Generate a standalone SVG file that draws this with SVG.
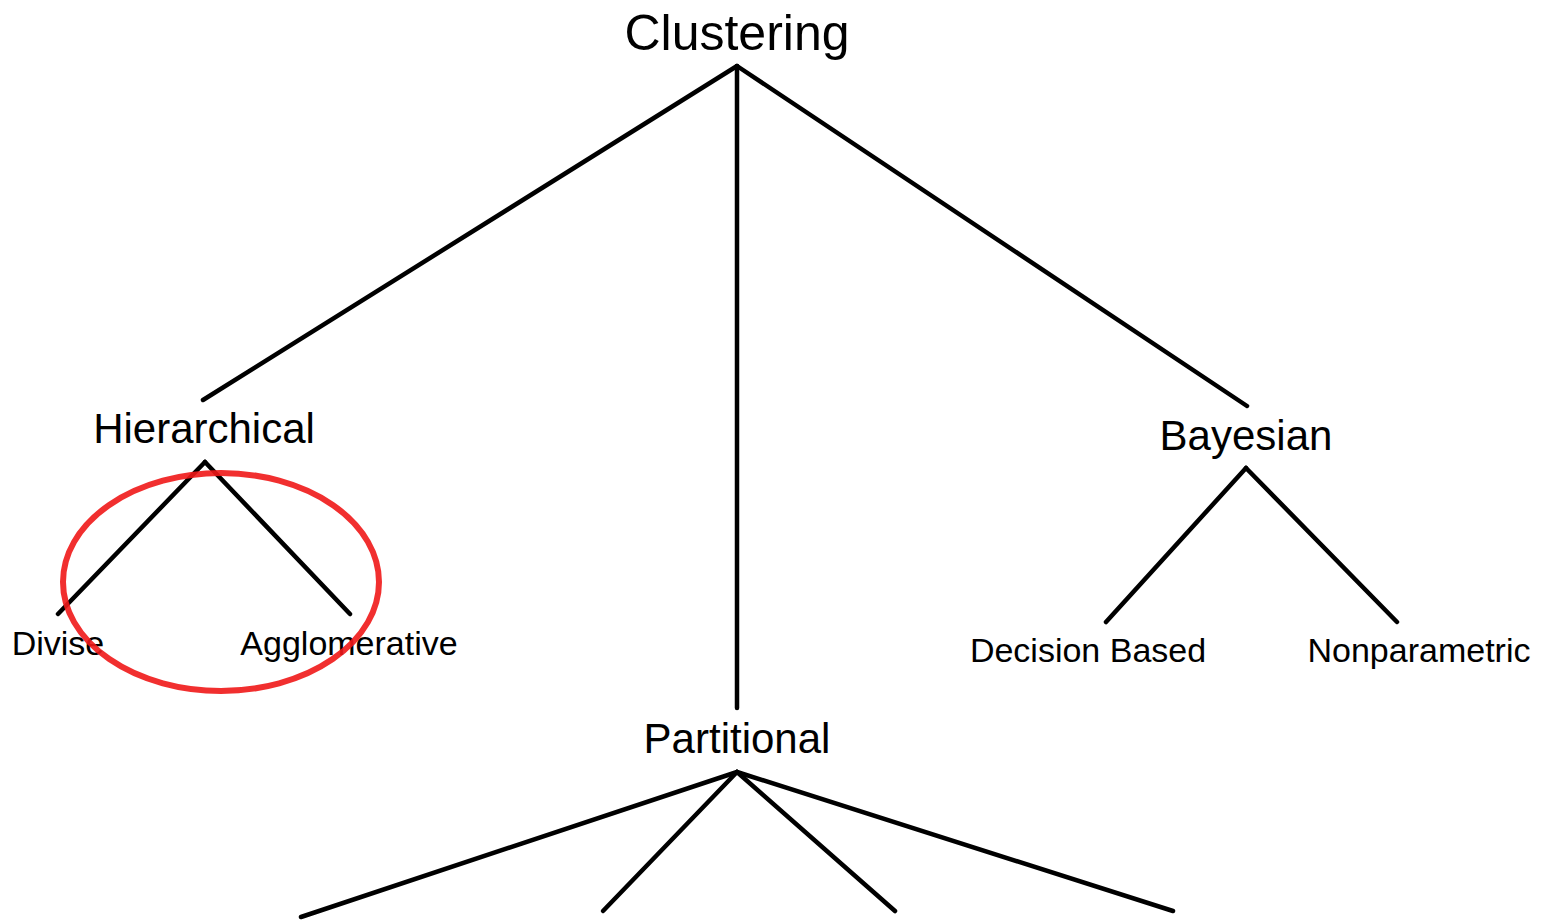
<svg xmlns="http://www.w3.org/2000/svg" width="1554" height="922" viewBox="0 0 1554 922">
<style>
.l{stroke:#000;stroke-width:4.5;fill:none;stroke-linecap:round}
.t{font-family:"Liberation Sans",Arial,sans-serif;fill:#000;text-anchor:middle}
.big{font-size:50px}
.mid{font-size:42px}
.sm{font-size:34px}
</style>
<rect width="1554" height="922" fill="#fff"/>
<g id="connectors">
<line class="l" x1="737" y1="66" x2="203" y2="400"/>
<line class="l" x1="737" y1="66" x2="737" y2="708"/>
<line class="l" x1="737" y1="66" x2="1247" y2="406"/>
<line class="l" x1="205" y1="462" x2="58" y2="614"/>
<line class="l" x1="205" y1="462" x2="350" y2="614"/>
<line class="l" x1="1246" y1="468" x2="1106" y2="622"/>
<line class="l" x1="1246" y1="468" x2="1397" y2="622"/>
<line class="l" x1="737" y1="772" x2="301" y2="917"/>
<line class="l" x1="737" y1="772" x2="603" y2="911"/>
<line class="l" x1="737" y1="772" x2="895" y2="911"/>
<line class="l" x1="737" y1="772" x2="1173" y2="911"/>
</g>
<g id="clustering"><text class="t big" x="737" y="50">Clustering</text></g>
<g id="hierarchical"><text class="t mid" x="204" y="443">Hierarchical</text></g>
<g id="divise"><text class="t sm" x="58" y="655">Divise</text></g>
<g id="agglomerative"><text class="t sm" x="349" y="655">Agglomerative</text></g>
<g id="bayesian"><text class="t mid" x="1246" y="450">Bayesian</text></g>
<g id="decision"><text class="t sm" x="1088" y="662">Decision Based</text></g>
<g id="nonparametric"><text class="t sm" x="1419" y="662">Nonparametric</text></g>
<g id="partitional"><text class="t mid" x="737" y="753">Partitional</text></g>
<g id="highlight"><ellipse cx="221" cy="582" rx="158" ry="109" fill="none" stroke="#f01818" stroke-width="6" opacity="0.9"/></g>
</svg>
